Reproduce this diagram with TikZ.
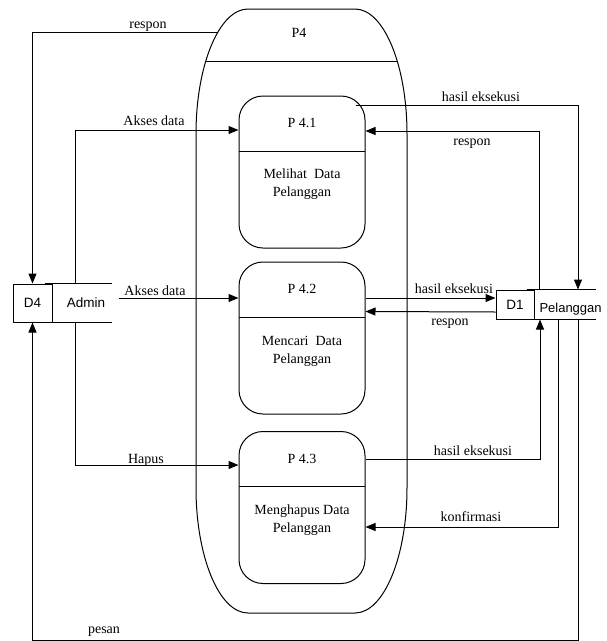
\documentclass[tikz,border=0pt]{standalone}
\usepackage{fontspec}
\setmainfont{Liberation Serif}
\setsansfont{Liberation Sans}
\usetikzlibrary{positioning, arrows.meta, calc}

\begin{document}
\begin{tikzpicture}[x=1pt, y=1pt, line width=1pt, font=\fontsize{14}{18}\selectfont]
	% Define styles
	\tikzset{
		proc/.style={rectangle, draw, rounded corners=24pt, minimum width=126, minimum height=152, inner sep=0pt,
			path picture={\draw ([yshift=-55]path picture bounding box.north west) -- ([yshift=-55]path picture bounding box.north east);}},
		store/.style={rectangle, draw, font=\sffamily\fontsize{13.5}{16}\selectfont, minimum width=39, minimum height=38, inner sep=0pt},
		line/.style={draw, -{Triangle[length=10pt, width=8pt]}},
		lbl/.style={anchor=base, inner sep=0pt},
		desc/.style={align=center, inner sep=0pt}
	}
	\useasboundingbox (0,0) rectangle (607,-641);
	
	% Outer process P4
	\draw[path picture={\draw ([yshift=-52]path picture bounding box.north west) -- ([yshift=-52]path picture bounding box.north east);}]
		(248,-9) -- (355,-9) arc[start angle=90, end angle=0, x radius=52pt, y radius=125pt]
		-- (407,-488) arc[start angle=0, end angle=-90, x radius=52pt, y radius=125pt]
		-- (248,-613) arc[start angle=270, end angle=180, x radius=52pt, y radius=125pt]
		-- (196,-134) arc[start angle=180, end angle=90, x radius=52pt, y radius=125pt] -- cycle;
	\node[lbl] (p4) at (299,-37) {P4};
	\coordinate (p4in) at (218,-32);
	
	% Nodes
	\node[proc] (p41) at (302,-172) {};
	\node[proc] (p42) at (302,-338) {};
	\node[proc] (p43) at (302,-507.5) {};
	
	\node[lbl] (p41id) at ([yshift=-32]p41.north) {P 4.1};
	\node[lbl] (p42id) at ([yshift=-32]p42.north) {P 4.2};
	\node[lbl] (p43id) at ([yshift=-32]p43.north) {P 4.3};
	\node[desc] (p41txt) at ([yshift=-89]p41.north) {Melihat\ \ Data\\Pelanggan};
	\node[desc] (p42txt) at ([yshift=-90]p42.north) {Mencari\ \ Data\\Pelanggan};
	\node[desc] (p43txt) at ([yshift=-89]p43.north) {Menghapus Data\\Pelanggan};
	
	\node[store] (d4) at (32.5,-303) {D4};
	\node[font=\sffamily\fontsize{13.5}{16}\selectfont, inner sep=0pt] (admin) at (86,-303) {Admin};
	\draw ([xshift=-8]d4.north east) -- ++(67,0);
	\draw ([xshift=-8]d4.south east) -- ++(67,0);
	
	\node[store, minimum width=38, minimum height=29] (d1) at (515,-304.5) {D1};
	\node[font=\sffamily\fontsize{13}{16}\selectfont, inner sep=0pt, anchor=base west] (pelanggan) at (539,-312) {Pelanggan};
	\draw ([xshift=-8]d1.north east) -- ++(69,0);
	\draw ([xshift=-8]d1.south east) -- ++(69,0);
	
	% Arrows
	\draw[line] (p4in) -| (d4.north);
	\draw[line] ([xshift=63]d1.south) |- ($(d4.south)+(0,-318)$) -- (d4.south);
	
	\draw[line] ([xshift=43]d4.north) |- ([yshift=42]p41.west);
	\draw[line] ([xshift=66,yshift=5]d4.east) -- ([yshift=40]p42.west);
	\draw[line] ([xshift=43]d4.south) |- ([yshift=42.5]p43.west);
	
	\draw[line] ([xshift=-10,yshift=-10]p41.north east) -| ([xshift=63]d1.north);
	\draw[line] ([xshift=24]d1.north) |- ([yshift=41]p41.east);
	\draw[line] ([yshift=40]p42.east) -- ([yshift=6.5]d1.west);
	\draw[line] ([yshift=-7.5]d1.west) -- ([yshift=26.5]p42.east);
	\draw[line] ([yshift=48.5]p43.east) -| ([xshift=25]d1.south);
	\draw[line] ([xshift=43]d1.south) |- ([yshift=-19.5]p43.east);
	
	% Labels
	\node[lbl] (respon1) at (148,-28) {respon};
	\node[lbl] (akses1) at (154,-125) {Akses data};
	\node[lbl] (akses2) at (155,-295) {Akses data};
	\node[lbl] (hapus) at (146,-463) {Hapus};
	\node[lbl] (pesan) at (104,-633) {pesan};
	\node[lbl] (hasil1) at (481,-101) {hasil eksekusi};
	\node[lbl] (respon2) at (472,-145) {respon};
	\node[lbl] (hasil2) at (454,-293) {hasil eksekusi};
	\node[lbl] (respon3) at (450,-325) {respon};
	\node[lbl] (hasil3) at (473,-455) {hasil eksekusi};
	\node[lbl] (konfirmasi) at (471,-521) {konfirmasi};
	
\end{tikzpicture}
\end{document}
